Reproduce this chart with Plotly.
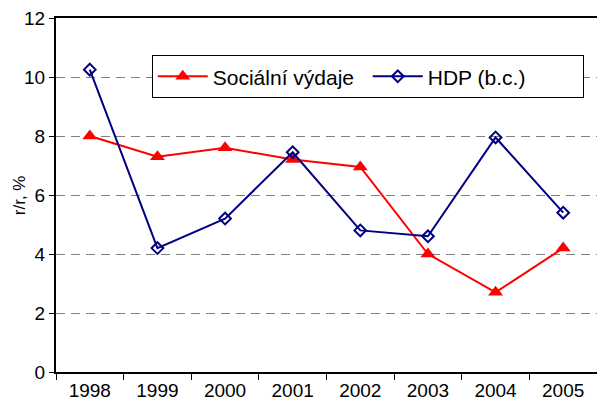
import plotly.graph_objects as go

years = ["1998", "1999", "2000", "2001", "2002", "2003", "2004", "2005"]
socialni = [8.0, 7.3, 7.6, 7.2, 6.95, 4.0, 2.7, 4.2]
hdp = [10.25, 4.2, 5.2, 7.45, 4.8, 4.6, 7.95, 5.4]
y_ticks = [0, 2, 4, 6, 8, 10, 12]

FONT = "Liberation Sans, Arial, sans-serif"

fig = go.Figure()
fig.add_trace(go.Scatter(
    x=years, y=socialni, name="Sociální výdaje", mode="lines+markers",
    line=dict(color="#FF0000", width=2),
    marker=dict(symbol="triangle-up", size=13, color="#FF0000"),
))
fig.add_trace(go.Scatter(
    x=years, y=hdp, name="HDP (b.c.)", mode="lines+markers",
    line=dict(color="#000080", width=2),
    marker=dict(symbol="diamond-open", size=9, color="#000080",
                line=dict(width=2, color="#000080")),
))

fig.update_layout(
    width=597, height=405,
    margin=dict(l=56, r=0, t=18, b=33),
    paper_bgcolor="white", plot_bgcolor="white",
    font=dict(family=FONT, size=19, color="black"),
    showlegend=True,
    legend=dict(
        orientation="h", x=0.177, y=0.895, xanchor="left", yanchor="top",
        bordercolor="black", borderwidth=1, bgcolor="white",
        font=dict(size=21), itemwidth=50,
        entrywidth=150, entrywidthmode="pixels",
    ),
    xaxis=dict(
        type="category", range=[-0.5, 7.5], automargin=False,
        showline=True, linecolor="black", linewidth=2, mirror=True,
        ticks="outside", tickson="boundaries", ticklen=6, tickcolor="black",
        showgrid=False, tickfont=dict(size=19),
    ),
    yaxis=dict(
        range=[0, 12], tickvals=y_ticks, automargin=False,
        showline=True, linecolor="black", linewidth=2, mirror=False,
        ticks="outside", ticklen=5, tickcolor="black",
        showgrid=True, gridcolor="#808080", gridwidth=1, griddash="9px,6px",
        zeroline=False, tickfont=dict(size=19),
    ),
    annotations=[dict(
        text="r/r, %", textangle=-90, xref="paper", yref="paper",
        x=-0.068, y=0.5, xanchor="center", yanchor="middle",
        showarrow=False, font=dict(size=17),
    )],
)

fig.write_html("out.html", config={"displayModeBar": False},
               post_script="document.body.style.margin='0';")
